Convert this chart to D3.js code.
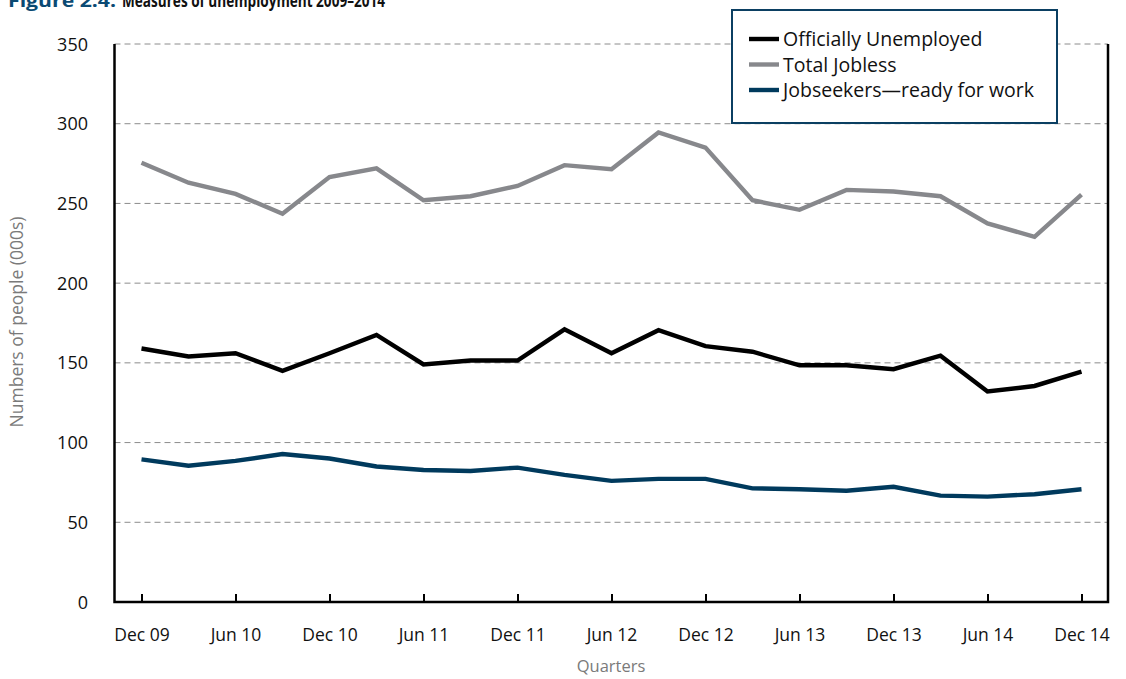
<!DOCTYPE html>
<html>
<head>
<meta charset="utf-8">
<script src="https://cdn.jsdelivr.net/npm/d3@7"></script>
<style>
  html, body { margin: 0; padding: 0; background: #fff; }
  svg { display: block; font-family: "Open Sans", "Noto Sans", sans-serif; }
</style>
</head>
<body>
<svg id="chart" width="1126" height="679"></svg>
<script>
const quarters = ["Dec 09","Mar 10","Jun 10","Sep 10","Dec 10","Mar 11","Jun 11","Sep 11","Dec 11","Mar 12","Jun 12","Sep 12","Dec 12","Mar 13","Jun 13","Sep 13","Dec 13","Mar 14","Jun 14","Sep 14","Dec 14"];
const tickLabels = ["Dec 09","Jun 10","Dec 10","Jun 11","Dec 11","Jun 12","Dec 12","Jun 13","Dec 13","Jun 14","Dec 14"];
const yTicks = [0, 50, 100, 150, 200, 250, 300, 350];
const seriesNames = ["Officially Unemployed", "Total Jobless", "Jobseekers\u2014ready for work"];
const officiallyUnemployed = [159, 154, 156, 145, 156, 167.5, 149, 151.5, 151.5, 171, 156, 170.5, 160.5, 157, 148.5, 148.5, 146, 154.5, 132, 135.5, 144.5];
const totalJobless = [275.5, 263, 256, 243.5, 266.5, 272, 252, 254.5, 261, 274, 271.5, 294.5, 285, 252, 246, 258.5, 257.5, 254.5, 237.5, 229, 255.5];
const jobseekers = [89.5, 85.5, 88.5, 92.8, 90, 85, 82.8, 82.2, 84.3, 79.7, 76, 77.2, 77.2, 71.3, 70.7, 69.8, 72.3, 66.7, 66.1, 67.6, 70.7];
const colors = ["#000000", "#87888c", "#003a5d"];

(function () {
const svg = d3.select("#chart");
const pLeft = 114.5, pRight = 1108, pTop = 44, pBottom = 602;

const x = d3.scalePoint().domain(quarters).range([141.5, 1081.5]);
const y = d3.scaleLinear().domain([0, 350]).range([pBottom, pTop]);

// title (cut off at top as in reference)
svg.append("text").attr("x", 8).attr("y", 7)
  .attr("font-size", 17).attr("font-weight", "bold").attr("fill", "#0b4a73")
  .attr("textLength", 108).attr("lengthAdjust", "spacingAndGlyphs")
  .text("Figure 2.4:");
svg.append("text").attr("x", 122).attr("y", 7)
  .attr("font-size", 17).attr("font-weight", "bold").attr("fill", "#111")
  .attr("textLength", 263).attr("lengthAdjust", "spacingAndGlyphs")
  .text("Measures of unemployment 2009\u20132014");

// gridlines
svg.append("g").selectAll("line").data(yTicks.filter(d => d > 0)).join("line")
  .attr("x1", pLeft).attr("x2", pRight)
  .attr("y1", d => y(d)).attr("y2", d => y(d))
  .attr("stroke", "#8c8c8c").attr("stroke-width", 1)
  .attr("stroke-dasharray", "6,4");

// y axis labels
const yAxis = d3.axisLeft(y).tickValues(yTicks).tickSize(0).tickPadding(0);
const gy = svg.append("g").attr("transform", `translate(88,0)`).call(yAxis);
gy.select(".domain").remove();
gy.attr("font-size", 18).attr("font-family", "'Open Sans', sans-serif");
gy.selectAll("text").attr("fill", "#111").attr("dy", "0.34em");

// x axis
const xAxis = d3.axisBottom(x).tickValues(tickLabels).tickSize(-8).tickPadding(0);
const gx = svg.append("g").attr("transform", `translate(0,${pBottom})`).call(xAxis);
gx.select(".domain").remove();
gx.attr("font-size", 17.5).attr("font-family", "'Open Sans', sans-serif");
gx.selectAll(".tick line").attr("stroke", "#000").attr("stroke-width", 2);
gx.selectAll("text").attr("fill", "#111").attr("dy", 0).attr("y", 39);

// frame: left, bottom, right
svg.append("path")
  .attr("d", `M${pLeft},${pTop}V${pBottom}H${pRight}V${pTop}`)
  .attr("fill", "none").attr("stroke", "#000").attr("stroke-width", 2.5);

// lines
const line = d3.line().x((d, i) => x(quarters[i])).y(d => y(d));
const allSeries = [officiallyUnemployed, totalJobless, jobseekers];
[1, 0, 2].forEach(k => {
  svg.append("path").datum(allSeries[k])
    .attr("d", line).attr("fill", "none")
    .attr("stroke", colors[k]).attr("stroke-width", 4.4)
    .attr("stroke-linejoin", "miter");
});

// axis titles
svg.append("text").attr("transform", "translate(23,322) rotate(-90)")
  .attr("text-anchor", "middle").attr("font-size", 17.5).attr("fill", "#7a7a7a")
  .text("Numbers of people (000s)");
svg.append("text").attr("x", 611).attr("y", 672)
  .attr("text-anchor", "middle").attr("font-size", 16.5).attr("fill", "#7a7a7a")
  .text("Quarters");

// legend
const lg = svg.append("g");
lg.append("rect").attr("x", 732).attr("y", 10).attr("width", 325).attr("height", 113)
  .attr("fill", "#fff").attr("stroke", "#0b3f62").attr("stroke-width", 2);
seriesNames.forEach((name, i) => {
  const ly = 39 + i * 25.5;
  lg.append("line").attr("x1", 749).attr("x2", 779).attr("y1", ly).attr("y2", ly)
    .attr("stroke", colors[i]).attr("stroke-width", 4.4);
  lg.append("text").attr("x", 783).attr("y", ly).attr("dy", "0.36em")
    .attr("font-size", 19.5).attr("fill", "#111").text(name);
});
})();
</script>
</body>
</html>
